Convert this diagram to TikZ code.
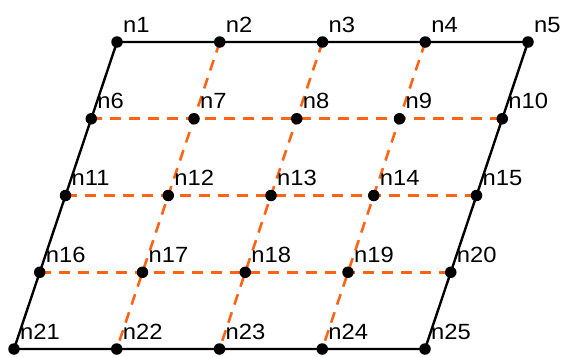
\documentclass[tikz,border=0pt]{standalone}
\usepackage{fontspec}
\setmainfont[FakeStretch=1.08]{Liberation Sans}
\usetikzlibrary{backgrounds}
\definecolor{dashor}{RGB}{255,100,20}
\begin{document}
\begin{tikzpicture}[x=1pt,y=-1pt,
  dot/.style={circle,fill=black,inner sep=0pt,minimum size=11.5pt},
  lbl/.style={anchor=base west,font=\fontsize{22}{22}\selectfont,inner sep=0pt},
  frame/.style={line width=2.4pt,black},
  gridline/.style={line width=2.6pt,dashor,dash pattern=on 11pt off 8pt}]
\useasboundingbox (0,0) rectangle (561,356);
\foreach \r in {0,...,4}{
  \foreach \c in {1,...,5}{
    \pgfmathtruncatemacro{\k}{5*\r+\c}
    \node[dot] (n\k) at ({117-25.75*\r+102.75*(\c-1)},{42+76.75*\r}) {};
    \node[lbl] (l\k) at ([shift={(6,-10)}]n\k.center) {n\k};
  }
}
\begin{pgfonlayer}{background}
  \draw[gridline] (n6.center) -- (n10.center);
  \draw[gridline] (n11.center) -- (n15.center);
  \draw[gridline] (n16.center) -- (n20.center);
  \draw[gridline] (n2.center) -- (n22.center);
  \draw[gridline] (n3.center) -- (n23.center);
  \draw[gridline] (n4.center) -- (n24.center);
  \draw[frame] (n1.center) -- (n5.center) -- (n25.center) -- (n21.center) -- cycle;
\end{pgfonlayer}
\end{tikzpicture}
\end{document}
